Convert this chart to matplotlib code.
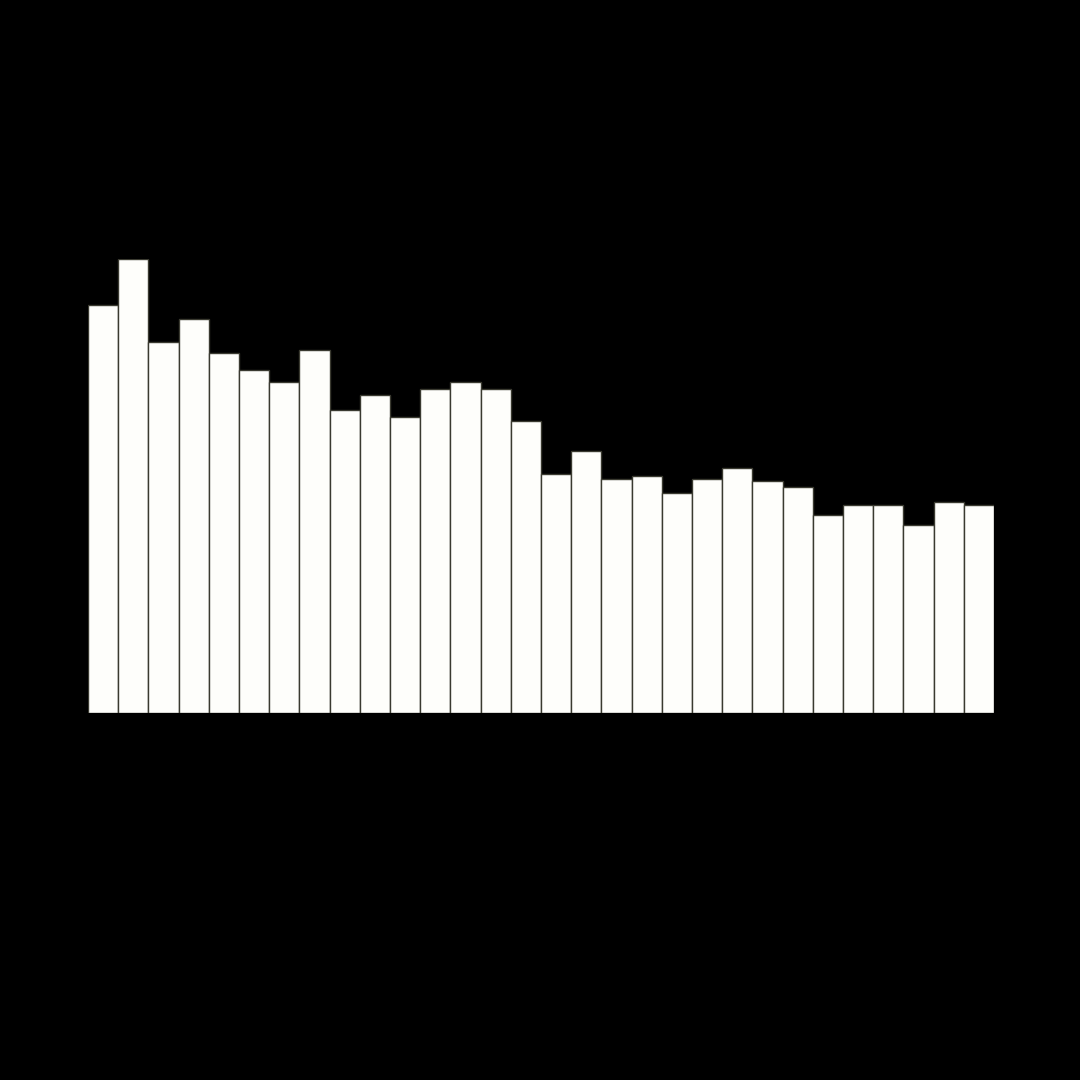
import matplotlib
matplotlib.use("Agg")
import matplotlib.pyplot as plt

# Bar heights (arbitrary units)
VALUES = [
    408, 454, 371, 394, 360, 343, 331, 363, 303, 318,
    296, 324, 331, 324, 292, 239, 262, 234, 237, 220,
    234, 245, 232, 226, 198, 208, 208, 188, 211, 208,
]
POSITIONS = list(range(len(VALUES)))

fig = plt.figure(figsize=(10.8, 10.8), dpi=100, facecolor="black")

# Axes placed to match the plotting region of the reference
ax = fig.add_axes([88 / 1080, 1 - 713 / 1080, (994 - 88) / 1080, (713 - 259) / 1080])
ax.set_facecolor("black")
ax.set_axis_off()

ax.bar(
    POSITIONS,
    VALUES,
    width=1.0,
    align="edge",
    color="#fefefb",
    edgecolor="#3a3a30",
    linewidth=1.0,
)
ax.set_xlim(0, len(VALUES))
ax.set_ylim(0, max(VALUES))

fig.savefig("out.png", dpi=100, facecolor="black")
